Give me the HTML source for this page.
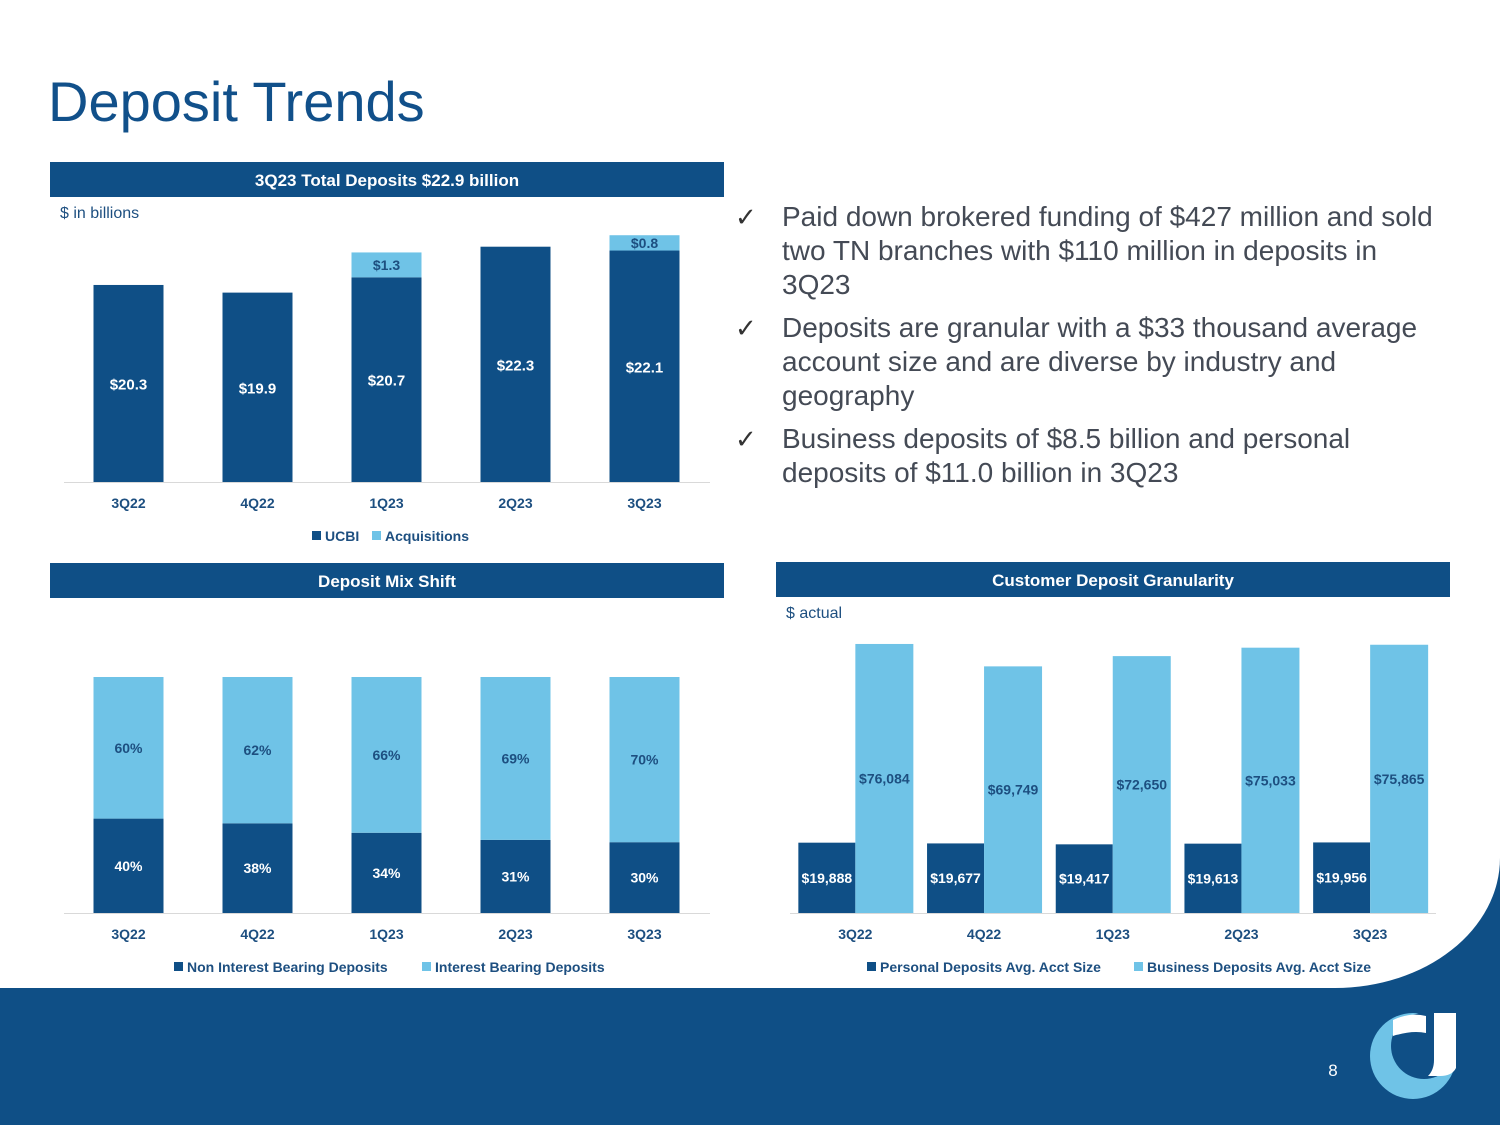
<!DOCTYPE html>
<html><head><meta charset="utf-8">
<style>
html,body{margin:0;padding:0;}
body{width:1500px;height:1125px;overflow:hidden;background:#0f4f86;position:relative;font-family:"Liberation Sans",sans-serif;}
#white{position:absolute;left:0;top:0;width:1500px;height:988px;background:#fff;border-bottom-right-radius:165px 130px;}
svg{position:absolute;left:0;top:0;}
.bul{position:absolute;left:737px;width:703px;font-size:28px;line-height:34px;color:#444a55;}
.bul span.ck{position:absolute;left:-2px;top:0;font-size:26px;color:#333;}
.bul div{margin-left:45px;}
</style></head>
<body>
<div id="white"></div>
<div class="bul" style="top:200px"><span class="ck">✓</span><div>Paid down brokered funding of $427 million and sold two TN branches with $110 million in deposits in 3Q23</div></div>
<div class="bul" style="top:311px"><span class="ck">✓</span><div>Deposits are granular with a $33 thousand average account size and are diverse by industry and geography</div></div>
<div class="bul" style="top:422px"><span class="ck">✓</span><div>Business deposits of $8.5 billion and personal deposits of $11.0 billion in 3Q23</div></div>
<svg id="s" width="1500" height="1125" xmlns="http://www.w3.org/2000/svg" font-family="Liberation Sans, sans-serif">
<text x="48" y="121" font-size="56" fill="#11508a">Deposit Trends</text>
<rect x="50" y="162" width="674" height="35" fill="#0f4f86"/>
<text x="387" y="186" font-size="17" font-weight="bold" fill="#fff" text-anchor="middle">3Q23 Total Deposits $22.9 billion</text>
<text x="60" y="218" font-size="16" fill="#1d4f80">$ in billions</text>
<rect x="50" y="563" width="674" height="35" fill="#0f4f86"/>
<text x="387" y="587" font-size="17" font-weight="bold" fill="#fff" text-anchor="middle">Deposit Mix Shift</text>
<rect x="776" y="562" width="674" height="35" fill="#0f4f86"/>
<text x="1113" y="586" font-size="17" font-weight="bold" fill="#fff" text-anchor="middle">Customer Deposit Granularity</text>
<text x="786" y="618" font-size="16" fill="#1d4f80">$ actual</text>
<line x1="64" y1="482.5" x2="710" y2="482.5" stroke="#d9d9d9"/>
<line x1="64" y1="913.5" x2="710" y2="913.5" stroke="#d9d9d9"/>
<line x1="790" y1="913.5" x2="1436" y2="913.5" stroke="#d9d9d9"/>
<g id="c1"></g><g id="c2"></g><g id="c3"></g>
<g font-size="14" font-weight="bold" fill="#1d4f80">
<rect x="312" y="531" width="9" height="9" fill="#0f4f86"/><text x="325" y="541">UCBI</text>
<rect x="372" y="531" width="9" height="9" fill="#6fc3e7"/><text x="385" y="541">Acquisitions</text></g>
<g font-size="14" font-weight="bold" fill="#1d4f80">
<rect x="174" y="962" width="9" height="9" fill="#0f4f86"/><text x="187" y="972">Non Interest Bearing Deposits</text>
<rect x="422" y="962" width="9" height="9" fill="#6fc3e7"/><text x="435" y="972">Interest Bearing Deposits</text></g>
<g font-size="14" font-weight="bold" fill="#1d4f80">
<rect x="867" y="962" width="9" height="9" fill="#0f4f86"/><text x="880" y="972">Personal Deposits Avg. Acct Size</text>
<rect x="1134" y="962" width="9" height="9" fill="#6fc3e7"/><text x="1147" y="972">Business Deposits Avg. Acct Size</text></g>
<text x="1333" y="1076" font-size="17" fill="#fff" text-anchor="middle">8</text>
<g>
<circle cx="1413" cy="1056" r="43" fill="#6fc3e7"/>
<circle cx="1424" cy="1046" r="33" fill="#0f4f86"/>
<path d="M1393 1020 Q1410 1012 1426 1016 L1426 1033 Q1412 1030 1393 1036 Z" fill="#fff"/>
<path d="M1434 1013 L1456 1013 L1456 1068 Q1452 1076 1440 1076 L1428 1076 Q1434 1070 1434 1060 Z" fill="#fff"/>
</g>
</svg>
<script>
const cats = ["3Q22","4Q22","1Q23","2Q23","3Q23"];
const ucbi = [20.3,19.9,20.7,22.3,22.1];
const acq = [0,0,1.3,0,0.8];
const nonInt = [40,38,34,31,30];
const interest = [60,62,66,69,70];
const personal = [19888,19677,19417,19613,19956];
const business = [76084,69749,72650,75033,75865];
const DARK="#0f4f86", LIGHT="#6fc3e7", NS="http://www.w3.org/2000/svg";
function mk(g,tag,attrs,txt){const e=document.createElementNS(NS,tag);for(const k in attrs)e.setAttribute(k,attrs[k]);if(txt!==undefined)e.textContent=txt;g.appendChild(e);return e;}
function xCat(i,left,step){return left+step*(i+0.5);}
// chart 1
const g1=document.getElementById('c1');
const y1=v=>482-(v-10)*19.13, h1=v=>v*19.13;
cats.forEach((c,i)=>{
  const cx=xCat(i,64,129);
  const b=mk(g1,'rect',{x:cx-35,y:y1(ucbi[i]),width:70,height:482-y1(ucbi[i]),fill:DARK});
  
  
  const t=mk(g1,'text',{x:cx,y:(y1(ucbi[i])+482)/2+6,'font-size':15,'font-weight':'bold',fill:'#fff','text-anchor':'middle'},'$'+ucbi[i].toFixed(1));
  
  
  if(acq[i]>0){
    const top=y1(ucbi[i])-h1(acq[i]);
    const a=mk(g1,'rect',{x:cx-35,y:top,width:70,height:h1(acq[i]),fill:LIGHT});
    
    
    const at=mk(g1,'text',{x:cx,y:top+h1(acq[i])/2+5,'font-size':14,'font-weight':'bold',fill:'#1d4f80','text-anchor':'middle'},'$'+acq[i].toFixed(1));
    
    
  }
  const xl=mk(g1,'text',{x:cx,y:508,'font-size':14,'font-weight':'bold',fill:'#1d4f80','text-anchor':'middle'},c);
  
  
});
// chart 2
const g2=document.getElementById('c2');
const hh=v=>v*2.36;
cats.forEach((c,i)=>{
  const cx=xCat(i,64,129);
  const nTop=913-hh(nonInt[i]);
  const b=mk(g2,'rect',{x:cx-35,y:nTop,width:70,height:hh(nonInt[i]),fill:DARK});
  
  
  const iTop=nTop-hh(interest[i]);
  const b2=mk(g2,'rect',{x:cx-35,y:iTop,width:70,height:hh(interest[i]),fill:LIGHT});
  
  
  const t=mk(g2,'text',{x:cx,y:(nTop+913)/2+5,'font-size':14,'font-weight':'bold',fill:'#fff','text-anchor':'middle'},nonInt[i]+'%');
  
  
  const t2=mk(g2,'text',{x:cx,y:(iTop+nTop)/2+5,'font-size':14,'font-weight':'bold',fill:'#1d4f80','text-anchor':'middle'},interest[i]+'%');
  
  
  const xl=mk(g2,'text',{x:cx,y:939,'font-size':14,'font-weight':'bold',fill:'#1d4f80','text-anchor':'middle'},c);
  
  
});
// chart 3
const g3=document.getElementById('c3');
const h3=v=>v*0.003536;
const fmt=v=>'$'+v.toLocaleString('en-US');
cats.forEach((c,i)=>{
  const cx=xCat(i,791,128.7);
  const pTop=913-h3(personal[i]);
  const b=mk(g3,'rect',{x:cx-57,y:pTop,width:57,height:h3(personal[i]),fill:DARK});
  
  
  const bTop=913-h3(business[i]);
  const b2=mk(g3,'rect',{x:cx,y:bTop,width:58,height:h3(business[i]),fill:LIGHT});
  
  
  const t=mk(g3,'text',{x:cx-28.5,y:(pTop+913)/2+5,'font-size':14,'font-weight':'bold',fill:'#fff','text-anchor':'middle'},fmt(personal[i]));
  
  
  const t2=mk(g3,'text',{x:cx+29,y:(bTop+913)/2+5,'font-size':14,'font-weight':'bold',fill:'#1d4f80','text-anchor':'middle'},fmt(business[i]));
  
  
  const xl=mk(g3,'text',{x:cx,y:939,'font-size':14,'font-weight':'bold',fill:'#1d4f80','text-anchor':'middle'},c);
  
  
});
</script>
</body></html>
